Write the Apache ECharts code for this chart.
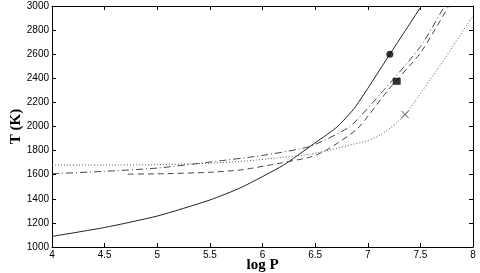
<!DOCTYPE html>
<html><head><meta charset="utf-8">
<script src="https://cdn.jsdelivr.net/npm/echarts@6/dist/echarts.min.js"></script>
<style>html,body{margin:0;padding:0;background:#fff}#c{width:480px;height:273px}</style>
</head><body><div id="c"></div>
<script>
var xTicks = [4, 4.5, 5, 5.5, 6, 6.5, 7, 7.5, 8];
var yTicks = [1000, 1200, 1400, 1600, 1800, 2000, 2200, 2400, 2600, 2800, 3000];
var solidLogP = [4, 4.5, 5, 5.5, 5.8, 6.2, 6.47, 6.7, 6.88, 7.21, 7.51];
var solidT    = [1088, 1162, 1257, 1390, 1495, 1680, 1846, 1990, 2160, 2600, 3000];
var dashDotLogP = [4, 4.5, 5, 5.5, 6, 6.45, 6.83, 7.15, 7.5, 7.73];
var dashDotT    = [1608, 1628, 1655, 1705, 1760, 1835, 2000, 2300, 2662, 3000];
var dashLogP = [4.72, 5, 5.5, 5.8, 6.1, 6.45, 6.6, 6.9, 7.2, 7.5, 7.77];
var dashT    = [1605, 1607, 1620, 1640, 1685, 1745, 1800, 1980, 2310, 2610, 3000];
var dotLogP = [4, 4.5, 5, 5.5, 5.85, 6.1, 6.45, 6.99, 7.12, 7.275, 7.354, 7.48, 7.59, 7.69, 8];
var dotT    = [1680, 1680, 1683, 1695, 1714, 1736, 1770, 1880, 1929, 2030, 2095, 2247, 2386, 2510, 2920];
var markCircle = [7.21, 2600];
var markSquare = [7.275, 2375];
var markCross  = [7.354, 2100];

function zip(a, b) { return a.map(function (v, i) { return [v, b[i]]; }); }

var lab = { color: '#000', fontFamily: 'Liberation Sans, Arial', fontSize: 10 };
function xAx(pos, show) {
  return { type: 'value', position: pos, min: 4, max: 8, interval: 0.5,
    axisLine: { show: true, onZero: false, lineStyle: { color: '#000', width: 1 } },
    axisTick: { show: true, inside: true, length: 4, lineStyle: { color: '#000' } },
    axisLabel: show ? Object.assign({ margin: 3, formatter: function (v) { return String(v); } }, lab) : { show: false },
    splitLine: { show: false },
    name: show ? 'log P' : '', nameLocation: 'middle', nameGap: 11, nameMoveOverlap: false,
    nameTextStyle: { fontFamily: 'Liberation Serif, Times New Roman', fontWeight: 'bold', fontSize: 15, color: '#000' } };
}
function yAx(pos, show) {
  return { type: 'value', position: pos, min: 1000, max: 3000, interval: 200,
    axisLine: { show: true, onZero: false, lineStyle: { color: '#000', width: 1 } },
    axisTick: { show: true, inside: true, length: 4, lineStyle: { color: '#000' } },
    axisLabel: show ? Object.assign({ margin: 3, formatter: function (v) { return String(v); } }, lab) : { show: false },
    splitLine: { show: false },
    name: show ? 'T (K)' : '', nameLocation: 'middle', nameGap: 28, nameMoveOverlap: false,
    nameTextStyle: { fontFamily: 'Liberation Serif, Times New Roman', fontWeight: 'bold', fontSize: 15, color: '#000' } };
}
function line(d, type, color) {
  return { type: 'line', data: d, smooth: 0.2, showSymbol: false, symbol: 'none',
    lineStyle: { color: color, width: 1, type: type }, animation: false, z: 3 };
}
var chart = echarts.init(document.getElementById('c'), null, { renderer: 'canvas' });
chart.setOption({
  animation: false,
  grid: { left: 52, right: 7, top: 6, bottom: 26, containLabel: false, outerBoundsMode: 'none' },
  xAxis: [xAx('bottom', true), xAx('top', false)],
  yAxis: [yAx('left', true), yAx('right', false)],
  series: [
    line(zip(solidLogP, solidT), 'solid', '#222'),
    line(zip(dashDotLogP, dashDotT), [7, 3, 1, 3], '#444'),
    line(zip(dashLogP, dashT), [6, 4], '#444'),
    line(zip(dotLogP, dotT), [1, 2], '#555'),
    { type: 'scatter', data: [markCircle], symbol: 'circle', symbolSize: 7, itemStyle: { color: '#000' }, z: 5 },
    { type: 'scatter', data: [markSquare], symbol: 'rect', symbolSize: [8, 7], itemStyle: { color: '#000' }, z: 5 },
    { type: 'scatter', data: [markCross], symbol: 'path://M0,0L10,10M10,0L0,10', symbolSize: 7,
      itemStyle: { color: 'none', borderColor: '#222', borderWidth: 1 }, z: 5 }
  ]
});
</script></body></html>
